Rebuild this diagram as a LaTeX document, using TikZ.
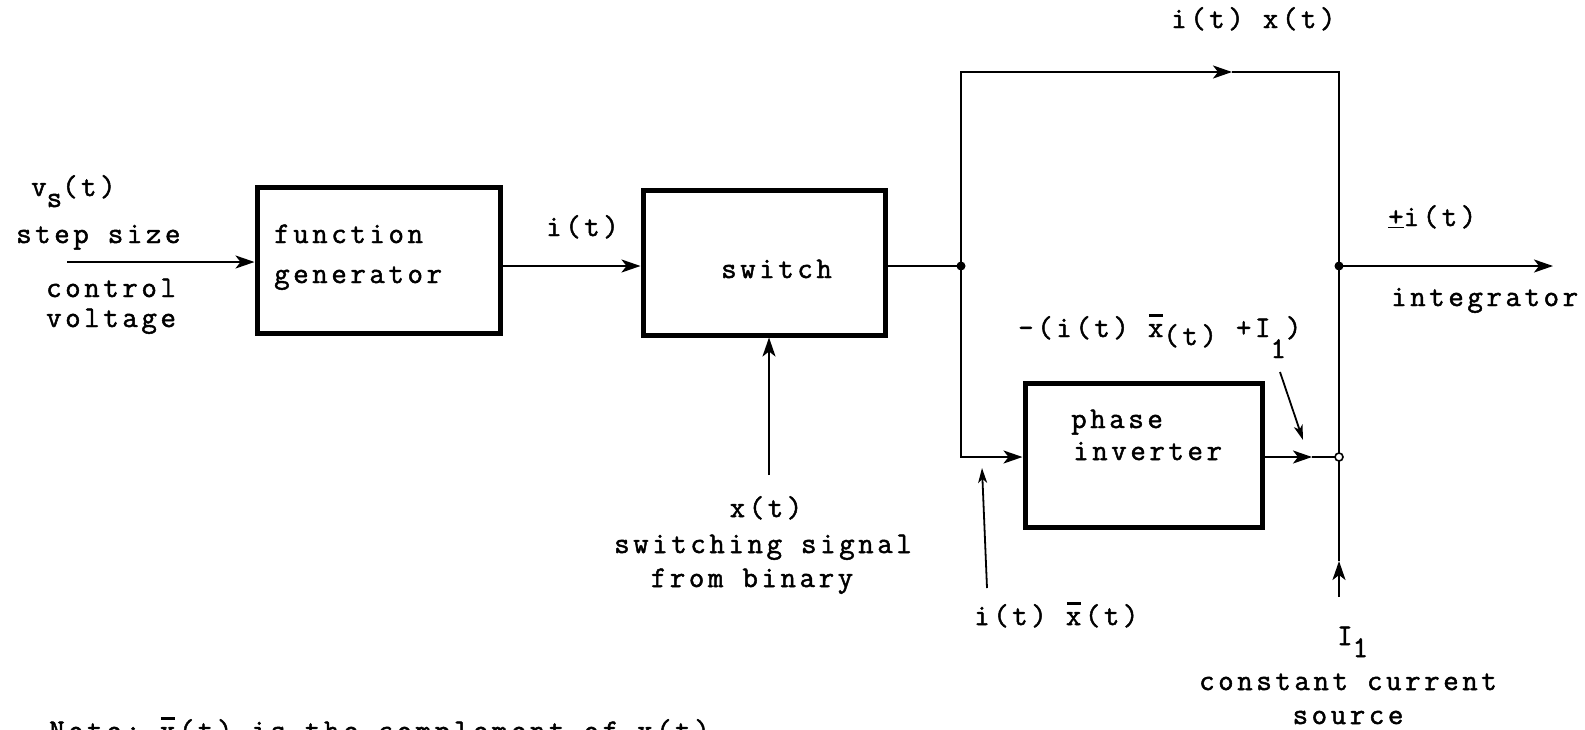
\documentclass[tikz,border=0pt]{standalone}
\usepackage{fontspec}
\setmonofont{Latin Modern Mono}[LetterSpace=12, FakeBold=1.6]
\usetikzlibrary{arrows.meta}
\newcommand\myxbar{\leavevmode\rlap{\hspace{1pt}\rule[20pt]{14pt}{2.6pt}}x}
\begin{document}
\begin{tikzpicture}[x=1pt,y=-1pt,
  font=\ttfamily\fontsize{30}{32}\selectfont,
  line width=2.4pt,
  txt/.style={inner sep=0pt, anchor=base west},
  blk/.style={draw, line width=5pt, inner sep=0pt},
  arr/.style={-{Stealth[length=19pt,width=13pt,inset=5pt]}},
  arrs/.style={line width=1.8pt,-{Stealth[length=15pt,width=9pt,inset=4pt]}},
  dot/.style={circle, fill, inner sep=0pt, minimum size=9pt},
  odot/.style={circle, draw, line width=1.6pt, fill=white, inner sep=0pt, minimum size=8pt}]
\clip (0,0) rectangle (1585,729);
\useasboundingbox (0,0) rectangle (1585,729);

% blocks
\node[blk, minimum width=243pt, minimum height=146pt] (fg) at (378.5,260) {};
\node[blk, minimum width=242pt, minimum height=145pt] (sw) at (764,262.5) {};
\node[blk, minimum width=237pt, minimum height=144pt] (pi) at (1143.5,455) {};

% coordinates
\coordinate (vin) at (67,262);
\coordinate (j1) at (961,266);
\coordinate (tl) at (961,72);
\coordinate (tm) at (1232,72);
\coordinate (tr) at (1339,72);
\coordinate (j2) at (1339,266);
\coordinate (j3) at (1339,457);
\coordinate (bl) at (961,457);
\coordinate (pm) at (1312,457);
\coordinate (i1tip) at (1339,561);
\coordinate (i1src) at (1339,597);
\coordinate (out) at (1553,266);
\coordinate (xsrc) at (769,475);
\coordinate (a1s) at (1280,372);
\coordinate (a1e) at (1303,440);
\coordinate (a2s) at (987,588);
\coordinate (a2e) at (982,468);

% connectors
\draw[arr] (vin) -- (vin -| fg.west);
\draw[arr] (fg.east |- j1) -- (sw.west |- j1);
\draw (sw.east |- j1) -- (j1);
\draw[arr] (j1) -- (tl) -- (tm);
\draw (tm) -- (tr) -- (j2) -- (j3) -- (i1tip);
\draw[arr] (j1) -- (bl) -- (pi.west |- bl);
\draw[arr] (pi.east |- j3) -- (pm);
\draw (pm) -- (j3);
\draw[arr] (i1src) -- (i1tip);
\draw[arr] (j2) -- (out);
\draw[arr] (xsrc) -- (xsrc |- sw.south);
\draw[arrs] (a1s) -- (a1e);
\draw[arrs] (a2s) -- (a2e);

\node[dot] (d1) at (j1) {};
\node[dot] (d2) at (j2) {};
\node[odot] (d3) at (j3) {};

% texts
\node[txt] (lv) at (30,196) {v\raisebox{-11pt}{s}(t)};
\node[txt] (lstep) at (15,243) {step size};
\node[txt] (lctl) at (45,297) {control};
\node[txt] (lvolt) at (45,327) {voltage};
\node[txt] (tf1) at (273,243) {function};
\node[txt] (tf2) at (273,283) {generator};
\node[txt] (lit) at (545,236) {i(t)};
\node[txt] (tsw) at (720,278) {switch};
\node[txt, anchor=base] (lx) at (766,517) {x(t)};
\node[txt, anchor=base] (lsw1) at (763,553) {switching signal};
\node[txt, anchor=base] (lsw2) at (752,587) {from binary};
\node[txt] (ltop) at (1170,28) {i(t) x(t)};
\node[txt] (lpm) at (1387,226) {\underline{+}i(t)};
\node[txt] (lint) at (1390,306) {integrator};
\node[txt] (lneg) at (1017,337) {-(i(t) \myxbar\raisebox{-8pt}{(t)} +I\raisebox{-21pt}{1})};
\node[txt] (tp1) at (1070,428) {phase};
\node[txt] (tp2) at (1072,460) {inverter};
\node[txt] (lbot) at (973,625) {i(t) \myxbar(t)};
\node[txt] (li1) at (1336,645) {I\raisebox{-12pt}{1}};
\node[txt, anchor=base] (lcc) at (1348,690) {constant current};
\node[txt, anchor=base] (lsrc) at (1348,724) {source};
\node[txt] (note) at (48,740) {Note: \myxbar(t) is the complement of x(t)};
\end{tikzpicture}
\end{document}
